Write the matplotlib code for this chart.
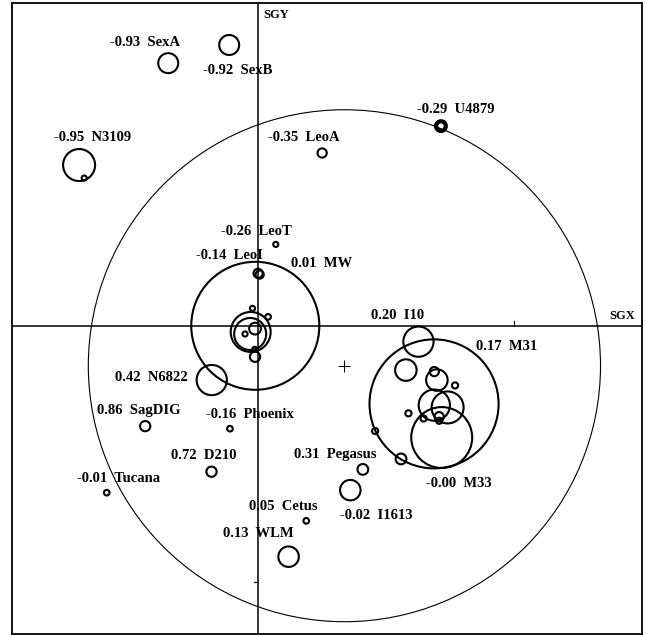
import numpy as np
import matplotlib
matplotlib.use("Agg")
import matplotlib.pyplot as plt
from matplotlib.patches import Circle

# labelled galaxies: SGX, SGY (Mpc), circle radius (Mpc), value shown in label
names = ["SexA", "SexB", "N3109", "LeoA", "U4879", "LeoT", "LeoI", "MW",
         "I10", "M31", "M33", "N6822", "SagDIG", "Phoenix", "D210", "Tucana",
         "Pegasus", "Cetus", "I1613", "WLM"]
values = [-0.93, -0.92, -0.95, -0.35, -0.29, -0.26, -0.14, 0.01,
          0.20, 0.17, -0.004, 0.42, 0.86, -0.16, 0.72, -0.01,
          0.31, 0.05, -0.02, 0.13]
gx = [-0.350, -0.112, -0.698, 0.251, 0.715, 0.070, 0.001, -0.010,
      0.627, 0.688, 0.718, -0.180, -0.440, -0.109, -0.181, -0.590,
      0.410, 0.189, 0.361, 0.120]
gy = [1.025, 1.096, 0.627, 0.674, 0.779, 0.317, 0.204, -0.001,
      -0.063, -0.306, -0.4375, -0.213, -0.393, -0.403, -0.571, -0.653,
      -0.562, -0.763, -0.643, -0.903]
gr = [0.039, 0.039, 0.0625, 0.018, 0.019, 0.010, 0.018, 0.250,
      0.059, 0.252, 0.119, 0.059, 0.020, 0.011, 0.020, 0.011,
      0.021, 0.011, 0.040, 0.040]

# unlabelled companions
cx = [-0.678, 0.007, -0.028, -0.030, -0.011, -0.021, 0.040, -0.050,
      -0.012, -0.011, 0.559, 0.458, 0.578, 0.689, 0.699, 0.770,
      0.689, 0.741, 0.588, 0.647, 0.708, 0.708]
cy = [0.576, 0.199, -0.025, -0.033, -0.012, 0.067, 0.034, -0.033,
      -0.093, -0.122, -0.521, -0.412, -0.174, -0.180, -0.213, -0.234,
      -0.311, -0.320, -0.343, -0.363, -0.356, -0.372]
cr = [0.010, 0.016, 0.078, 0.0625, 0.023, 0.010, 0.011, 0.010,
      0.010, 0.020, 0.021, 0.012, 0.042, 0.018, 0.042, 0.012,
      0.061, 0.0625, 0.012, 0.012, 0.018, 0.012]

# Local Group barycentre and zero-velocity sphere
lg_x, lg_y, lg_r = 0.338, -0.157, 1.0

# label anchors (left edge, vertical centre)
label_x = [-0.577, -0.214, -0.795, 0.041, 0.621, -0.145, -0.241, 0.129,
           0.441, 0.852, 0.657, -0.557, -0.627, -0.203, -0.340, -0.707,
           0.142, -0.033, 0.321, -0.138]
label_y = [1.105, 0.998, 0.734, 0.734, 0.845, 0.369, 0.273, 0.243,
           0.041, -0.080, -0.616, -0.204, -0.330, -0.347, -0.509, -0.597,
           -0.502, -0.705, -0.744, -0.814]

W, H = 646, 635
fig = plt.figure(figsize=(W / 100, H / 100), dpi=100)
ax = fig.add_axes([12 / W, 1 - 634 / H, 630 / W, 631 / H])
ax.set_xlim(-0.960, 1.500)
ax.set_ylim(-1.205, 1.260)
ax.set_xticks([])
ax.set_yticks([])
for sp in ax.spines.values():
    sp.set_linewidth(1.3)

# axes through origin
ax.axhline(0, color="black", lw=1.1, zorder=1)
ax.axvline(0, color="black", lw=1.1, zorder=1)
ax.plot([1.0, 1.0], [0, 0.016], color="black", lw=0.8)
ax.plot([-0.014, 0], [-1.0, -1.0], color="black", lw=0.8)

ax.add_patch(Circle((lg_x, lg_y), lg_r, fill=False, lw=0.8, color="black"))
ax.plot(lg_x, lg_y, marker="+", ms=9, mew=0.7, color="black")

for i in range(len(names)):
    lw = 3.0 if names[i] == "U4879" else 1.5
    ax.add_patch(Circle((gx[i], gy[i]), gr[i], fill=False, lw=lw,
                        color="black", zorder=3))
    ax.text(label_x[i], label_y[i], f"{values[i]:.2f}  {names[i]}",
            ha="left", va="center", fontsize=10.5, fontweight="bold",
            family="Liberation Serif", zorder=4)

for i in range(len(cx)):
    ax.add_patch(Circle((cx[i], cy[i]), cr[i], fill=False, lw=1.5,
                        color="black", zorder=3))

ax.text(0.022, 1.213, "SGY", ha="left", va="center", fontsize=9,
        fontweight="bold", family="Liberation Serif")
ax.text(1.372, 0.038, "SGX", ha="left", va="center", fontsize=9,
        fontweight="bold", family="Liberation Serif")

fig.savefig("out.png", dpi=100)
